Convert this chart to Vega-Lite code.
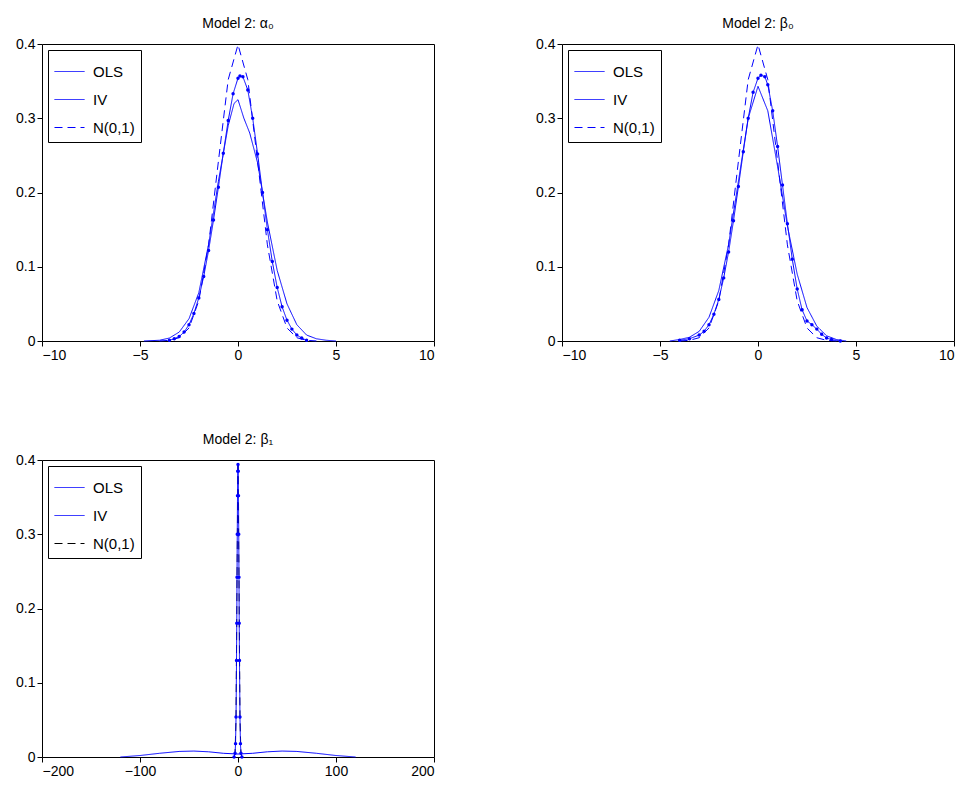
{
"$schema":"https://vega.github.io/schema/vega-lite/v6.json",
"background":"white",
"padding":{"left":15,"top":16,"right":5,"bottom":5},
"resolve":{"scale":{"color":"independent","strokeDash":"independent"},"legend":{"color":"independent","strokeDash":"independent"}},
"spacing":69,
"config":{"font":"Liberation Sans","view":{"stroke":"black","strokeWidth":1},
"axis":{"grid":false,"domain":false,"tickColor":"black","labelColor":"black","labelFontSize":14,"labelFont":"Liberation Sans","title":null,"ticks":true,"tickSize":5,"format":"~r"},
"title":{"fontWeight":"normal","fontSize":14,"font":"Liberation Sans","color":"black","offset":6},
"legend":{"orient":"top-left","offset":6,"fillColor":"white","strokeColor":"black","padding":6,"labelFontSize":15,"labelColor":"black","symbolType":"stroke","symbolSize":900,"symbolStrokeWidth":1,"title":null,"rowPadding":4,"labelOffset":8}},
"vconcat":[
{"hconcat":[
{"title":"Model 2: α₀","width":392,"height":297,
"data":{"values":[
{"s":"N(0,1)","x":-4,"y":0.0001},{"s":"N(0,1)","x":-3.5,"y":0.0009},{"s":"N(0,1)","x":-3,"y":0.0044},{"s":"N(0,1)","x":-2.5,"y":0.0175},{"s":"N(0,1)","x":-2,"y":0.054},{"s":"N(0,1)","x":-1.5,"y":0.1295},{"s":"N(0,1)","x":-1,"y":0.242},{"s":"N(0,1)","x":-0.5,"y":0.352},{"s":"N(0,1)","x":0,"y":0.399},{"s":"N(0,1)","x":0.5,"y":0.352},{"s":"N(0,1)","x":1,"y":0.242},{"s":"N(0,1)","x":1.5,"y":0.1295},{"s":"N(0,1)","x":2,"y":0.054},{"s":"N(0,1)","x":2.5,"y":0.0175},{"s":"N(0,1)","x":3,"y":0.0044},{"s":"N(0,1)","x":3.5,"y":0.0009},{"s":"N(0,1)","x":4,"y":0.0001},
{"s":"OLS","x":-4.8,"y":0},{"s":"OLS","x":-4,"y":0.001},{"s":"OLS","x":-3.5,"y":0.004},{"s":"OLS","x":-3,"y":0.012},{"s":"OLS","x":-2.5,"y":0.03},{"s":"OLS","x":-2,"y":0.065},{"s":"OLS","x":-1.5,"y":0.13},{"s":"OLS","x":-1,"y":0.215},{"s":"OLS","x":-0.5,"y":0.29},{"s":"OLS","x":-0.2,"y":0.32},{"s":"OLS","x":0,"y":0.325},{"s":"OLS","x":0.3,"y":0.3},{"s":"OLS","x":0.6,"y":0.28},{"s":"OLS","x":1,"y":0.24},{"s":"OLS","x":1.5,"y":0.16},{"s":"OLS","x":2,"y":0.095},{"s":"OLS","x":2.5,"y":0.05},{"s":"OLS","x":3,"y":0.022},{"s":"OLS","x":3.5,"y":0.008},{"s":"OLS","x":4,"y":0.003},{"s":"OLS","x":4.5,"y":0.001},{"s":"OLS","x":5,"y":0},
{"s":"IV","x":-3.5,"y":0.001},{"s":"IV","x":-3.25,"y":0.003},{"s":"IV","x":-3,"y":0.006},{"s":"IV","x":-2.75,"y":0.012},{"s":"IV","x":-2.5,"y":0.022},{"s":"IV","x":-2.25,"y":0.037},{"s":"IV","x":-2,"y":0.058},{"s":"IV","x":-1.75,"y":0.087},{"s":"IV","x":-1.5,"y":0.122},{"s":"IV","x":-1.25,"y":0.163},{"s":"IV","x":-1,"y":0.207},{"s":"IV","x":-0.75,"y":0.253},{"s":"IV","x":-0.5,"y":0.297},{"s":"IV","x":-0.25,"y":0.333},{"s":"IV","x":0,"y":0.354},{"s":"IV","x":0.1,"y":0.357},{"s":"IV","x":0.25,"y":0.356},{"s":"IV","x":0.5,"y":0.338},{"s":"IV","x":0.75,"y":0.3},{"s":"IV","x":1,"y":0.252},{"s":"IV","x":1.25,"y":0.2},{"s":"IV","x":1.5,"y":0.15},{"s":"IV","x":1.75,"y":0.107},{"s":"IV","x":2,"y":0.072},{"s":"IV","x":2.25,"y":0.046},{"s":"IV","x":2.5,"y":0.028},{"s":"IV","x":2.75,"y":0.016},{"s":"IV","x":3,"y":0.008},{"s":"IV","x":3.25,"y":0.004},{"s":"IV","x":3.5,"y":0.001}
]},
"layer":[
{"mark":{"type":"line","strokeWidth":1},"encoding":{
"x":{"field":"x","type":"quantitative","scale":{"domain":[-10,10]},"axis":{"values":[-10,-5,0,5,10]}},
"y":{"field":"y","type":"quantitative","scale":{"domain":[0,0.4]},"axis":{"values":[0,0.1,0.2,0.3,0.4]}},
"color":{"field":"s","type":"nominal","scale":{"domain":["OLS","IV","N(0,1)"],"range":["#0000ff","#0000ff","#0000ff"]}},
"strokeDash":{"field":"s","type":"nominal","scale":{"domain":["OLS","IV","N(0,1)"],"range":[[1,0],[1,0],[8,5]]}}}},
{"transform":[{"filter":"datum.s=='IV'"}],"mark":{"type":"point","filled":true,"size":12,"color":"#0000ff","opacity":1},"encoding":{"x":{"field":"x","type":"quantitative"},"y":{"field":"y","type":"quantitative"}}}
]},
{"title":"Model 2: β₀","width":392,"height":297,
"data":{"values":[
{"s":"N(0,1)","x":-4,"y":0.0001},{"s":"N(0,1)","x":-3.5,"y":0.0009},{"s":"N(0,1)","x":-3,"y":0.0044},{"s":"N(0,1)","x":-2.5,"y":0.0175},{"s":"N(0,1)","x":-2,"y":0.054},{"s":"N(0,1)","x":-1.5,"y":0.1295},{"s":"N(0,1)","x":-1,"y":0.242},{"s":"N(0,1)","x":-0.5,"y":0.352},{"s":"N(0,1)","x":0,"y":0.399},{"s":"N(0,1)","x":0.5,"y":0.352},{"s":"N(0,1)","x":1,"y":0.242},{"s":"N(0,1)","x":1.5,"y":0.1295},{"s":"N(0,1)","x":2,"y":0.054},{"s":"N(0,1)","x":2.5,"y":0.0175},{"s":"N(0,1)","x":3,"y":0.0044},{"s":"N(0,1)","x":3.5,"y":0.0009},{"s":"N(0,1)","x":4,"y":0.0001},
{"s":"OLS","x":-4.5,"y":0},{"s":"OLS","x":-4,"y":0.002},{"s":"OLS","x":-3.5,"y":0.005},{"s":"OLS","x":-3,"y":0.013},{"s":"OLS","x":-2.5,"y":0.032},{"s":"OLS","x":-2,"y":0.068},{"s":"OLS","x":-1.5,"y":0.13},{"s":"OLS","x":-1,"y":0.215},{"s":"OLS","x":-0.5,"y":0.3},{"s":"OLS","x":0,"y":0.343},{"s":"OLS","x":0.5,"y":0.31},{"s":"OLS","x":1,"y":0.235},{"s":"OLS","x":1.5,"y":0.155},{"s":"OLS","x":2,"y":0.09},{"s":"OLS","x":2.5,"y":0.045},{"s":"OLS","x":3,"y":0.02},{"s":"OLS","x":3.5,"y":0.007},{"s":"OLS","x":4,"y":0.002},{"s":"OLS","x":4.5,"y":0},
{"s":"IV","x":-4,"y":0.001},{"s":"IV","x":-3.5,"y":0.003},{"s":"IV","x":-3,"y":0.008},{"s":"IV","x":-2.75,"y":0.013},{"s":"IV","x":-2.5,"y":0.022},{"s":"IV","x":-2.25,"y":0.036},{"s":"IV","x":-2,"y":0.056},{"s":"IV","x":-1.75,"y":0.085},{"s":"IV","x":-1.5,"y":0.12},{"s":"IV","x":-1.25,"y":0.162},{"s":"IV","x":-1,"y":0.208},{"s":"IV","x":-0.75,"y":0.255},{"s":"IV","x":-0.5,"y":0.3},{"s":"IV","x":-0.25,"y":0.335},{"s":"IV","x":0,"y":0.354},{"s":"IV","x":0.15,"y":0.358},{"s":"IV","x":0.35,"y":0.356},{"s":"IV","x":0.5,"y":0.345},{"s":"IV","x":0.75,"y":0.31},{"s":"IV","x":1,"y":0.262},{"s":"IV","x":1.25,"y":0.21},{"s":"IV","x":1.5,"y":0.158},{"s":"IV","x":1.75,"y":0.11},{"s":"IV","x":2,"y":0.07},{"s":"IV","x":2.25,"y":0.042},{"s":"IV","x":2.5,"y":0.027},{"s":"IV","x":2.75,"y":0.022},{"s":"IV","x":3,"y":0.016},{"s":"IV","x":3.25,"y":0.009},{"s":"IV","x":3.5,"y":0.004},{"s":"IV","x":3.75,"y":0.002},{"s":"IV","x":4.2,"y":0}
]},
"layer":[
{"mark":{"type":"line","strokeWidth":1},"encoding":{
"x":{"field":"x","type":"quantitative","scale":{"domain":[-10,10]},"axis":{"values":[-10,-5,0,5,10]}},
"y":{"field":"y","type":"quantitative","scale":{"domain":[0,0.4]},"axis":{"values":[0,0.1,0.2,0.3,0.4]}},
"color":{"field":"s","type":"nominal","scale":{"domain":["OLS","IV","N(0,1)"],"range":["#0000ff","#0000ff","#0000ff"]}},
"strokeDash":{"field":"s","type":"nominal","scale":{"domain":["OLS","IV","N(0,1)"],"range":[[1,0],[1,0],[8,5]]}}}},
{"transform":[{"filter":"datum.s=='IV'"}],"mark":{"type":"point","filled":true,"size":12,"color":"#0000ff","opacity":1},"encoding":{"x":{"field":"x","type":"quantitative"},"y":{"field":"y","type":"quantitative"}}}
]}
],"spacing":100,"resolve":{"scale":{"color":"independent","strokeDash":"independent"},"legend":{"color":"independent","strokeDash":"independent"}}},
{"title":"Model 2: β₁","width":392,"height":297,
"data":{"values":[
{"s":"N(0,1)","x":-4,"y":0.0001},{"s":"N(0,1)","x":-3,"y":0.0044},{"s":"N(0,1)","x":-2,"y":0.054},{"s":"N(0,1)","x":-1,"y":0.242},{"s":"N(0,1)","x":0,"y":0.399},{"s":"N(0,1)","x":1,"y":0.242},{"s":"N(0,1)","x":2,"y":0.054},{"s":"N(0,1)","x":3,"y":0.0044},{"s":"N(0,1)","x":4,"y":0.0001},
{"s":"OLS","x":-120,"y":0},{"s":"OLS","x":-100,"y":0.002},{"s":"OLS","x":-80,"y":0.005},{"s":"OLS","x":-60,"y":0.0075},{"s":"OLS","x":-45,"y":0.008},{"s":"OLS","x":-30,"y":0.007},{"s":"OLS","x":-15,"y":0.005},{"s":"OLS","x":0,"y":0.004},{"s":"OLS","x":15,"y":0.005},{"s":"OLS","x":30,"y":0.007},{"s":"OLS","x":45,"y":0.008},{"s":"OLS","x":60,"y":0.0075},{"s":"OLS","x":80,"y":0.005},{"s":"OLS","x":100,"y":0.002},{"s":"OLS","x":120,"y":0},
{"s":"IV","x":-4,"y":0},{"s":"IV","x":-3,"y":0.005},{"s":"IV","x":-2.5,"y":0.018},{"s":"IV","x":-2,"y":0.054},{"s":"IV","x":-1.5,"y":0.13},{"s":"IV","x":-1.25,"y":0.18},{"s":"IV","x":-1,"y":0.242},{"s":"IV","x":-0.75,"y":0.3},{"s":"IV","x":-0.5,"y":0.352},{"s":"IV","x":-0.25,"y":0.385},{"s":"IV","x":0,"y":0.394},{"s":"IV","x":0.25,"y":0.385},{"s":"IV","x":0.5,"y":0.352},{"s":"IV","x":0.75,"y":0.3},{"s":"IV","x":1,"y":0.242},{"s":"IV","x":1.25,"y":0.18},{"s":"IV","x":1.5,"y":0.13},{"s":"IV","x":2,"y":0.054},{"s":"IV","x":2.5,"y":0.018},{"s":"IV","x":3,"y":0.005},{"s":"IV","x":4,"y":0}
]},
"layer":[
{"mark":{"type":"line","strokeWidth":1},"encoding":{
"x":{"field":"x","type":"quantitative","scale":{"domain":[-200,200]},"axis":{"values":[-200,-100,0,100,200]}},
"y":{"field":"y","type":"quantitative","scale":{"domain":[0,0.4]},"axis":{"values":[0,0.1,0.2,0.3,0.4]}},
"color":{"field":"s","type":"nominal","scale":{"domain":["OLS","IV","N(0,1)"],"range":["#0000ff","#0000ff","#000000"]}},
"strokeDash":{"field":"s","type":"nominal","scale":{"domain":["OLS","IV","N(0,1)"],"range":[[1,0],[1,0],[8,5]]}}}},
{"transform":[{"filter":"datum.s=='IV'"}],"mark":{"type":"point","filled":true,"size":12,"color":"#0000ff","opacity":1},"encoding":{"x":{"field":"x","type":"quantitative"},"y":{"field":"y","type":"quantitative"}}}
]}
]}
